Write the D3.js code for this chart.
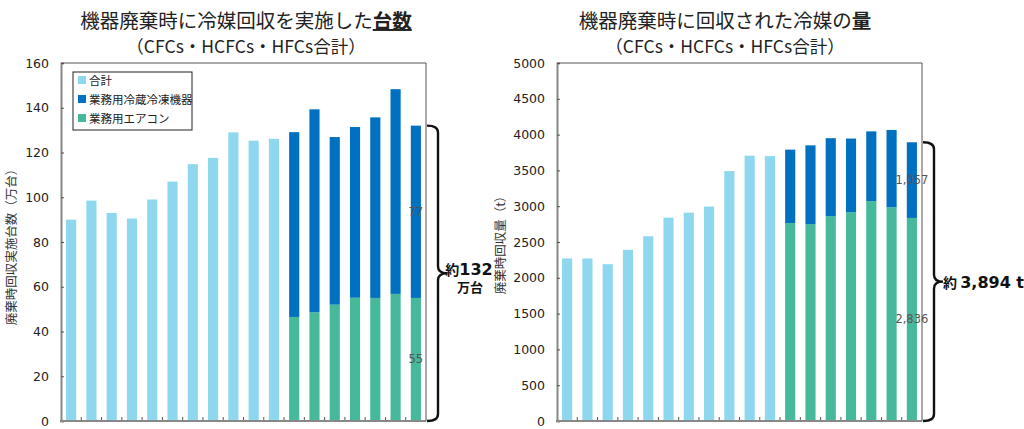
<!DOCTYPE html>
<html>
<head>
<meta charset="utf-8">
<script src="https://cdn.jsdelivr.net/npm/d3@7"></script>
<style>
  body { margin: 0; background: #fff; }
  svg { display: block; font-family: "Noto Sans CJK JP", "Noto Sans", sans-serif; }
  .num { font-family: "DejaVu Sans", Verdana, sans-serif; }
</style>
</head>
<body>
<svg id="chart" width="1024" height="429"></svg>
<script>
// 18 fiscal years (not labelled on the x axis in the original)
const years = ['2002','2003','2004','2005','2006','2007','2008','2009','2010',
               '2011','2012','2013','2014','2015','2016','2017','2018','2019'];

const legendLabels = ['合計', '業務用冷蔵冷凍機器', '業務用エアコン'];

// left chart: units (万台)
const unitsTotal  = [90, 98.5, 93, 90.5, 99, 107, 114.8, 117.6, 129, 125.3, 126.1];
const unitsAircon = [46.5, 48.6, 52, 55.1, 55, 56.8, 55];
const unitsFridge = [82.6, 90.7, 74.9, 76.3, 80.7, 91.5, 77];
const unitsTicks  = [0, 20, 40, 60, 80, 100, 120, 140, 160];

// right chart: tonnes
const tonTotal  = [2270, 2270, 2190, 2390, 2580, 2840, 2910, 2995, 3490, 3705, 3700];
const tonAircon = [2765, 2750, 2860, 2915, 3070, 2985, 2836];
const tonFridge = [1025, 1100, 1090, 1030, 975, 1080, 1057];
const tonTicks  = [0, 500, 1000, 1500, 2000, 2500, 3000, 3500, 4000, 4500, 5000];

const colTotal = '#8dd8ee', colFridge = '#0070c0', colAircon = '#45b99a';

const svg = d3.select('#chart');

function buildRows(total, aircon, fridge) {
    var rows = [];
    var n0 = total.length;
    years.forEach(function (yr, i) {
        if (i < n0) rows.push({ year: yr, total: total[i], aircon: 0, fridge: 0 });
        else rows.push({ year: yr, total: 0, aircon: aircon[i - n0], fridge: fridge[i - n0] });
    });
    return rows;
}

function drawChart(cfg) {
    const g = svg.append('g');
    const x = d3.scaleBand().domain(years).range([cfg.x0, cfg.x1]).paddingInner(0.5).paddingOuter(0.25);
    const y = d3.scaleLinear().domain([0, cfg.max]).range([cfg.y1, cfg.y0]);
    const rows = buildRows(cfg.total, cfg.aircon, cfg.fridge);

    // frame (top / right)
    g.append('path')
        .attr('d', 'M' + cfg.x0 + ',' + cfg.y0 + 'H' + cfg.x1 + 'V' + cfg.y1)
        .attr('fill', 'none').attr('stroke', '#555').attr('stroke-width', 1);

    // bars
    g.selectAll('.tot').data(rows.filter(d => d.total > 0)).join('rect')
        .attr('x', d => x(d.year)).attr('width', x.bandwidth())
        .attr('y', d => y(d.total)).attr('height', d => y(0) - y(d.total))
        .attr('fill', colTotal);

    const stack = d3.stack().keys(['aircon', 'fridge'])(rows.filter(d => d.total === 0));
    const colors = { aircon: colAircon, fridge: colFridge };
    stack.forEach(function (layer) {
        g.selectAll('.s-' + layer.key).data(layer).join('rect')
            .attr('x', d => x(d.data.year)).attr('width', x.bandwidth())
            .attr('y', d => y(d[1])).attr('height', d => y(d[0]) - y(d[1]))
            .attr('fill', colors[layer.key]);
    });

    // value labels on last bar
    const last = stack[0][stack[0].length - 1];
    const lastF = stack[1][stack[1].length - 1];
    const lx = x(years[years.length - 1]) + x.bandwidth() / 2;
    g.append('text').attr('class', 'num').attr('x', lx).attr('y', y((last[0] + last[1]) / 2) + 4)
        .attr('text-anchor', 'middle').attr('font-size', 11.5).attr('fill', '#555')
        .text(cfg.fmt(last.data.aircon));
    g.append('text').attr('class', 'num').attr('x', lx).attr('y', y((lastF[0] + lastF[1]) / 2) + 4)
        .attr('text-anchor', 'middle').attr('font-size', 11.5).attr('fill', '#555')
        .text(cfg.fmt(lastF.data.fridge));

    // y axis
    const ya = g.append('g').attr('transform', 'translate(' + cfg.x0 + ',0)')
        .call(d3.axisLeft(y).tickValues(cfg.ticks).tickFormat(d3.format('d')).tickSize(-3).tickPadding(12));
    ya.select('.domain').attr('stroke', '#888').attr('stroke-width', 2);
    ya.selectAll('.tick line').attr('stroke', '#555');
    ya.selectAll('text').attr('class', 'num').attr('font-size', 12.5).attr('fill', '#222');

    // x axis: ticks at band boundaries, pointing up
    const bounds = years.slice(1).map(yr => x(yr) - x.step() * x.paddingInner() / 2);
    g.selectAll('.xt').data(bounds).join('line')
        .attr('x1', d => d).attr('x2', d => d).attr('y1', cfg.y1).attr('y2', cfg.y1 - 4)
        .attr('stroke', '#555');
    g.append('line').attr('x1', cfg.x0 - 1).attr('x2', cfg.x1).attr('y1', cfg.y1).attr('y2', cfg.y1)
        .attr('stroke', '#888').attr('stroke-width', 2);

    // y label
    g.append('text')
        .attr('transform', 'translate(' + cfg.ylabX + ',' + cfg.ylabY + ') rotate(-90)')
        .attr('text-anchor', 'middle').attr('font-size', 12.5).attr('fill', '#333')
        .text(cfg.ylab);

    // titles
    const t = g.append('text').attr('x', cfg.tx).attr('y', 28).attr('text-anchor', 'middle')
        .attr('font-size', 19.5).attr('fill', '#222');
    t.append('tspan').text(cfg.title[0]);
    const tb = t.append('tspan').attr('font-weight', 'bold').text(cfg.title[1]);
    if (cfg.underline) tb.attr('text-decoration', 'underline');
    g.append('text').attr('x', cfg.tx).attr('y', 53).attr('text-anchor', 'middle')
        .attr('font-size', 17.5).attr('fill', '#222').text('（CFCs・HCFCs・HFCs合計）');

    // legend (left chart only)
    if (cfg.legend) {
        const lg = g.append('g').attr('transform', 'translate(73,72)');
        lg.append('rect').attr('width', 119).attr('height', 58)
            .attr('fill', '#fff').attr('stroke', '#222').attr('stroke-width', 1);
        const items = lg.selectAll('.li').data(legendLabels).join('g')
            .attr('transform', (d, i) => 'translate(5,' + (8 + i * 19) + ')');
        items.append('rect').attr('y', -4).attr('width', 8).attr('height', 8)
            .attr('fill', (d, i) => [colTotal, colFridge, colAircon][i]);
        items.append('text').attr('x', 11).attr('y', 4.5).attr('font-size', 11.5).attr('fill', '#222')
            .text(d => d);
    }

    // brace from top of last bar down to zero
    const yt = y(lastF[1]), yb = y(0);
    const bx = cfg.x1 + 1, mx = bx + 11, ym = (yt + yb) / 2, r = 7;
    const brace = 'M' + bx + ',' + yt +
        'Q' + mx + ',' + yt + ' ' + mx + ',' + (yt + r) +
        'V' + (ym - r) +
        'Q' + mx + ',' + ym + ' ' + (mx + 9) + ',' + ym +
        'Q' + mx + ',' + ym + ' ' + mx + ',' + (ym + r) +
        'V' + (yb - r) +
        'Q' + mx + ',' + yb + ' ' + bx + ',' + yb;
    g.append('path').attr('d', brace).attr('fill', 'none').attr('stroke', '#111').attr('stroke-width', 2.4);

    cfg.note(g, mx + 10, ym);
}

drawChart({
    x0: 61, x1: 426, y0: 63, y1: 421, max: 160, legend: true,
    total: unitsTotal, aircon: unitsAircon, fridge: unitsFridge, ticks: unitsTicks,
    fmt: d3.format('.0f'),
    ylab: '廃棄時回収実施台数（万台）', ylabX: 16, ylabY: 244,
    tx: 246, title: ['機器廃棄時に冷媒回収を実施した', '台数'], underline: true,
    note: function (g, x, y) {
        const tot = Math.round(unitsAircon[unitsAircon.length - 1] + unitsFridge[unitsFridge.length - 1]);
        const t = g.append('text').attr('x', x + 21).attr('y', y + 2).attr('text-anchor', 'middle')
            .attr('font-weight', 'bold').attr('fill', '#111');
        t.append('tspan').attr('font-size', 14).text('約');
        t.append('tspan').attr('class', 'num').attr('font-size', 16).text(tot);
        g.append('text').attr('x', x + 22).attr('y', y + 19).attr('text-anchor', 'middle')
            .attr('font-weight', 'bold').attr('font-size', 13).attr('fill', '#111').text('万台');
    }
});

drawChart({
    x0: 557, x1: 922, y0: 63, y1: 421, max: 5000, legend: false,
    total: tonTotal, aircon: tonAircon, fridge: tonFridge, ticks: tonTicks,
    fmt: d3.format(',.0f'),
    ylab: '廃棄時回収量（t）', ylabX: 505, ylabY: 242,
    tx: 725, title: ['機器廃棄時に回収された冷媒の', '量'], underline: false,
    note: function (g, x, y) {
        const t = g.append('text').attr('x', x - 1).attr('y', y + 6)
            .attr('font-weight', 'bold').attr('fill', '#111');
        t.append('tspan').attr('font-size', 14).text('約 ');
        t.append('tspan').attr('class', 'num').attr('font-size', 16).text('3,894 t');
    }
});
</script>
</body>
</html>
